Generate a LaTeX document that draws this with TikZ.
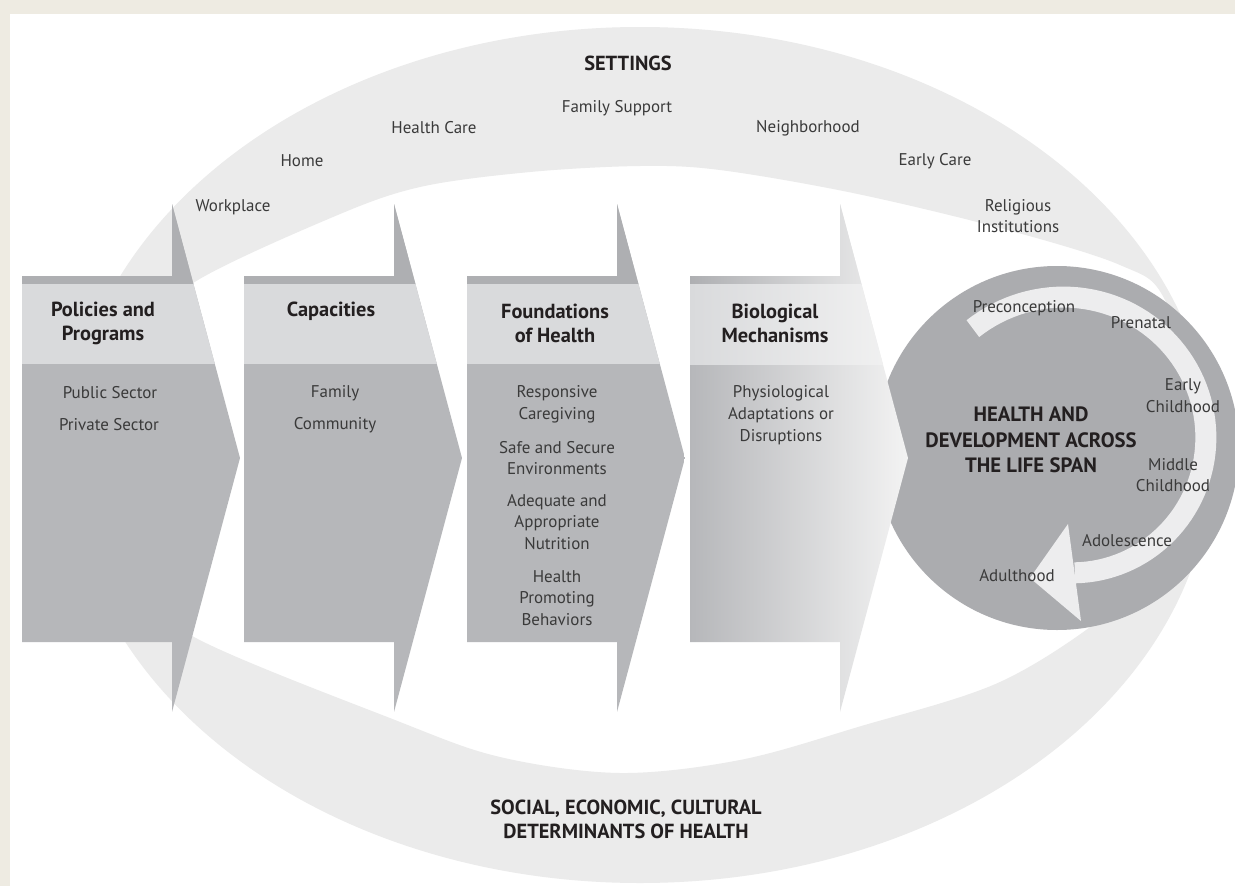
\documentclass[tikz,border=0pt]{standalone}
\usepackage{fontspec}
\setmainfont{PT Sans}
\definecolor{bgc}{HTML}{EEEBE2}
\definecolor{ringc}{HTML}{EBEBEB}
\definecolor{circc}{HTML}{ABACAF}
\definecolor{arrc}{HTML}{EDEDEE}
\definecolor{bodyc}{HTML}{B6B7BA}
\definecolor{headc}{HTML}{D9DADC}
\definecolor{stripc}{HTML}{AEAFB2}
\definecolor{fadec}{HTML}{F3F3F3}
\definecolor{midc}{HTML}{CDCED0}
\definecolor{txtc}{HTML}{3A3A3A}
\definecolor{hdc}{HTML}{231F20}
\newcommand\chevpath[1]{(#1,276) -- (#1+150,276) -- (#1+150,204) -- (#1+218,458) -- (#1+150,712) -- (#1+150,642) -- (#1,642) -- cycle}
\tikzset{
  lab/.style={font=\fontsize{9.65}{12.4}\selectfont, text=txtc, align=center, inner sep=0pt},
  hd/.style={font=\fontsize{11.6}{13.6}\selectfont\bfseries, text=hdc, align=center, inner sep=0pt},
  big/.style={font=\fontsize{11.8}{14.5}\selectfont\bfseries, text=hdc, align=center, inner sep=0pt}
}
\begin{document}
\begin{tikzpicture}[x=0.02cm,y=-0.02cm]
\useasboundingbox (0,0) rectangle (1235,886);
\fill[bgc] (0,0) rectangle (1235,886);
\fill[white] (10,14) rectangle (1235,886);
% outer ring
\fill[ringc, even odd rule] (640,455) ellipse [x radius=572, y radius=428]
  plot[smooth cycle, tension=0.55] coordinates {(640,166) (720,170) (853,193) (1000,228) (1120,265) (1165,300) (1200,420) (1180,540) (1110,612) (1000,682) (858,727) (740,760) (620,773) (500,757) (395,720) (194,637) (140,580) (115,460) (140,340) (193,283) (333,217) (420,187) (530,172)};
% life span circle
\fill[circc] (1057,448) circle [radius=182];
\draw[arrc, line width=0.42cm] plot[domain=130:-87, samples=80] ({1068+(131+17*(\x+87)/217)*cos(\x)}, {442-(131+17*(\x+87)/217)*sin(\x)});
\fill[arrc] (1068,524) -- (1030,578) -- (1081,621) -- cycle;
% chevrons
\foreach \L in {22,244,467}{
  \begin{scope}
    \clip \chevpath{\L};
    \fill[bodyc] (\L,204) rectangle (\L+218,712);
    \fill[stripc] (\L,204) rectangle (\L+218,284);
    \fill[headc] (\L,284) rectangle (\L+218,364);
  \end{scope}
}
\begin{scope}
  \clip \chevpath{690};
  \shade[left color=bodyc, middle color=midc, right color=fadec] (690,204) rectangle (908,712);
  \shade[left color=stripc, right color=fadec] (690,204) rectangle (908,284);
  \shade[left color=headc, right color=fadec] (690,284) rectangle (908,364);
\end{scope}
% ring labels
\node[hd] (settings) at (628,63) {SETTINGS};
\node[lab] (famsup) at (617,108) {Family Support};
\node[lab] (hcare) at (434,128) {Health Care};
\node[lab] (neigh) at (808,128) {Neighborhood};
\node[lab] (home) at (302,161) {Home};
\node[lab] (ecare) at (935,161) {Early Care};
\node[lab] (work) at (233,207) {Workplace};
\node[lab] (relig) at (1018,216) {Religious\\Institutions};
% chevron headers
\node[hd] (h1) at (103,323) {Policies and\\Programs};
\node[hd] (h2) at (331,311) {Capacities};
\node[hd] (h3) at (555,323) {Foundations\\of Health};
\node[hd] (h4) at (775,323) {Biological\\Mechanisms};
% chevron bodies
\node[lab] (p1) at (110,393) {Public Sector};
\node[lab] (p2) at (109,425) {Private Sector};
\node[lab] (c1) at (335,393) {Family};
\node[lab] (c2) at (335,425) {Community};
\node[lab] (f1) at (557,404) {Responsive\\Caregiving};
\node[lab] (f2) at (557,458) {Safe and Secure\\Environments};
\node[lab] (f3) at (557,522) {Adequate and\\Appropriate\\Nutrition};
\node[lab] (f4) at (557,598) {Health\\Promoting\\Behaviors};
\node[lab] (b1) at (781,415) {Physiological\\Adaptations or\\Disruptions};
% circle text
\node[big] (life) at (1031,440) {HEALTH AND\\DEVELOPMENT ACROSS\\THE LIFE SPAN};
\node[lab] (pre) at (1024,308) {Preconception};
\node[lab] (prenat) at (1141,323) {Prenatal};
\node[lab] (early) at (1183,396) {Early\\Childhood};
\node[lab] (middle) at (1173,475) {Middle\\Childhood};
\node[lab] (adol) at (1127,541) {Adolescence};
\node[lab] (adult) at (1017,576) {Adulthood};
% bottom
\node[hd] (social) at (626,819) {SOCIAL, ECONOMIC, CULTURAL\\DETERMINANTS OF HEALTH};
\end{tikzpicture}
\end{document}
